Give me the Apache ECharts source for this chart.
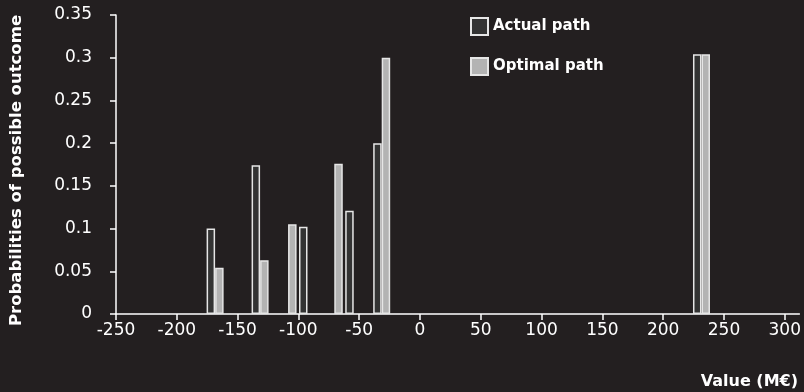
<!DOCTYPE html>
<html>
<head>
<meta charset="utf-8">
<script src="https://cdn.jsdelivr.net/npm/echarts@6/dist/echarts.min.js"></script>
<style>
html,body{margin:0;padding:0;background:#231f20;}
#chart{width:804px;height:392px;}
</style>
</head>
<body>
<div id="chart"></div>
<script>
// valeurs (x en M€, y = probabilité)
var actualX = [-172, -135, -96, -58, -35, 228];
var actualY = [0.1, 0.174, 0.102, 0.121, 0.2, 0.304];
var optimalX = [-165, -128, -105, -67, -28, 235];
var optimalY = [0.054, 0.063, 0.105, 0.176, 0.3, 0.304];
var xTicks = [-250, -200, -150, -100, -50, 0, 50, 100, 150, 200, 250, 300];

function pairs(xs, ys){
	return xs.map(function(x, i){ return [x, ys[i]]; });
}

var font = 'DejaVu Sans';
var myChart = echarts.init(document.getElementById('chart'));
var option = {
	backgroundColor: '#231f20',
	animation: false,
	textStyle: {fontFamily: font, color: '#fff'},
	title: {
		text: 'Value (M€)',
		right: 1,
		top: 369,
		textStyle: {color: '#fff', fontSize: 16, fontWeight: 'bold', fontFamily: font}
	},
	legend: {
		orient: 'vertical',
		left: 465,
		top: 12,
		itemWidth: 17,
		itemHeight: 17,
		itemGap: 21,
		icon: 'rect',
		textStyle: {color: '#fff', fontSize: 15, fontWeight: 'bold', fontFamily: font}
	},
	grid: {left: 116, right: 3, top: 15, bottom: 78},
	xAxis: {
		type: 'value',
		min: -250,
		max: 312,
		splitLine: {show: false},
		axisLine: {lineStyle: {color: '#fff', width: 1.5}},
		axisTick: {show: true, length: 6, customValues: xTicks, lineStyle: {color: '#fff', width: 1.5}},
		axisLabel: {customValues: xTicks, color: '#fff', fontSize: 17, margin: 8, fontFamily: font}
	},
	yAxis: {
		type: 'value',
		min: 0,
		max: 0.35,
		interval: 0.05,
		name: 'Probabilities of possible outcome',
		nameLocation: 'middle',
		nameGap: 91,
		nameTextStyle: {color: '#fff', fontSize: 16.5, fontWeight: 'bold', fontFamily: font, padding: [0, 12, 0, 0]},
		splitLine: {show: false},
		axisLine: {show: true, onZero: false, lineStyle: {color: '#fff', width: 1.5}},
		axisTick: {show: true, length: 6, lineStyle: {color: '#fff', width: 1.5}},
		axisLabel: {color: '#fff', fontSize: 17, margin: 24, fontFamily: font}
	},
	series: [
		{
			name: 'Actual path',
			type: 'bar',
			barWidth: 8.5,
			barGap: '-100%',
			itemStyle: {color: '#333333', borderColor: '#e6e6e6', borderWidth: 1.5},
			data: pairs(actualX, actualY)
		},
		{
			name: 'Optimal path',
			type: 'bar',
			barWidth: 8.5,
			barGap: '-100%',
			itemStyle: {color: '#b3b3b3', borderColor: '#e6e6e6', borderWidth: 1.5},
			data: pairs(optimalX, optimalY)
		}
	]
};
myChart.setOption(option);
window.addEventListener('resize', function(){ myChart.resize(); });
</script>
</body>
</html>
